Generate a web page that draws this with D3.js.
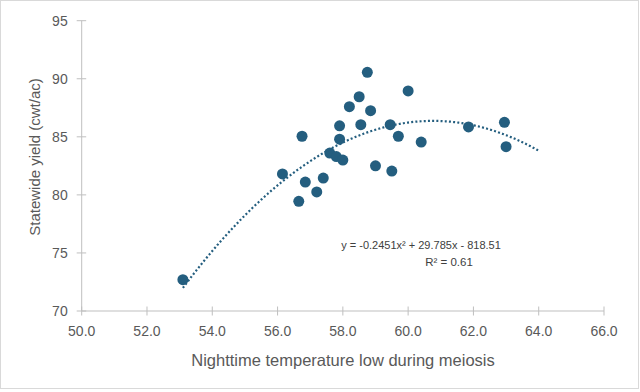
<!DOCTYPE html>
<html><head><meta charset="utf-8">
<script src="https://cdn.jsdelivr.net/npm/d3@7"></script>
<style>
html,body{margin:0;padding:0;background:#fff;}
svg{display:block;font-family:"Liberation Sans",Arial,sans-serif;}
</style></head>
<body><svg id="c" width="640" height="392"></svg>
<script>
const temps = [53.1,56.15,56.65,56.75,56.85,57.2,57.4,57.6,57.8,57.9,57.9,58.0,58.2,58.5,58.55,58.75,58.85,59.0,59.45,59.5,59.7,60.0,60.4,61.85,62.95,63.0];
const yields = [72.7,81.8,79.45,85.05,81.1,80.25,81.45,83.6,83.3,85.95,84.8,83.0,87.6,88.45,86.05,90.55,87.25,82.5,86.05,82.05,85.05,88.95,84.55,85.85,86.25,84.15];
const xTicks = [50,52,54,56,58,60,62,64,66];
const yTicks = [70,75,80,85,90,95];
const trendCoef = [-0.2451, 29.785, -818.51];
const trendRange = [53.1, 64.0];
const eqLines = ["y = -0.2451x\u00b2 + 29.785x - 818.51", "R\u00b2 = 0.61"];
const xTitle = "Nighttime temperature low during meiosis";
const yTitle = "Statewide yield (cwt/ac)";

const svg = d3.select("#c");
svg.append("rect").attr("x",0.5).attr("y",0.5).attr("width",638).attr("height",388)
  .attr("fill","#fff").attr("stroke","#d9d9d9");

const x = d3.scaleLinear().domain([50,66]).range([81.7,604]);
const y = d3.scaleLinear().domain([70,95]).range([311,20.7]);
const axisCol = "#bfbfbf", textCol = "#595959", ptCol = "#245e7f";

// x axis
const gx = svg.append("g").attr("transform",`translate(0,${y(70)})`);
gx.append("line").attr("x1",x(50)).attr("x2",x(66)).attr("stroke",axisCol);
gx.selectAll("line.t").data(xTicks).join("line").attr("class","t")
  .attr("x1",d=>x(d)).attr("x2",d=>x(d)).attr("y1",-4.5).attr("y2",4.5).attr("stroke",axisCol);
gx.selectAll("text").data(xTicks).join("text")
  .attr("x",d=>x(d)).attr("y",25).attr("text-anchor","middle")
  .attr("font-size",14).attr("fill",textCol).text(d=>d.toFixed(1));

// y axis
const gy = svg.append("g").attr("transform",`translate(${x(50)},0)`);
gy.append("line").attr("y1",y(70)).attr("y2",y(95)).attr("stroke",axisCol);
gy.selectAll("line.t").data(yTicks).join("line").attr("class","t")
  .attr("y1",d=>y(d)).attr("y2",d=>y(d)).attr("x1",-5).attr("x2",4.5).attr("stroke",axisCol);
gy.selectAll("text").data(yTicks).join("text")
  .attr("x",-14).attr("y",d=>y(d)).attr("dy","0.35em").attr("text-anchor","end")
  .attr("font-size",14).attr("fill",textCol).text(d=>d);

// titles
svg.append("text").attr("x",343).attr("y",366).attr("text-anchor","middle")
  .attr("font-size",16.5).attr("fill",textCol).text(xTitle);
svg.append("text").attr("transform","translate(40,157) rotate(-90)").attr("text-anchor","middle")
  .attr("font-size",15).attr("fill",textCol).text(yTitle);

// points
svg.append("g").selectAll("circle").data(temps.map((t,i)=>[t,yields[i]])).join("circle")
  .attr("cx",d=>x(d[0])).attr("cy",d=>y(d[1])).attr("r",5.5).attr("fill",ptCol);

// trendline
const tx = d3.range(trendRange[0], trendRange[1]+0.001, 0.05);
const line = d3.line().x(d=>x(d)).y(d=>y(trendCoef[0]*d*d+trendCoef[1]*d+trendCoef[2]));
svg.append("path").datum(tx).attr("d",line).attr("fill","none").attr("stroke",ptCol)
  .attr("stroke-width",2.2).attr("stroke-dasharray","2 2.2");

// equation
svg.append("text").attr("x",421).attr("y",249).attr("text-anchor","middle")
  .attr("font-size",11).attr("fill","#404040").text(eqLines[0]);
svg.append("text").attr("x",449).attr("y",266).attr("text-anchor","middle")
  .attr("font-size",11.5).attr("fill","#404040").text(eqLines[1]);
</script></body></html>
